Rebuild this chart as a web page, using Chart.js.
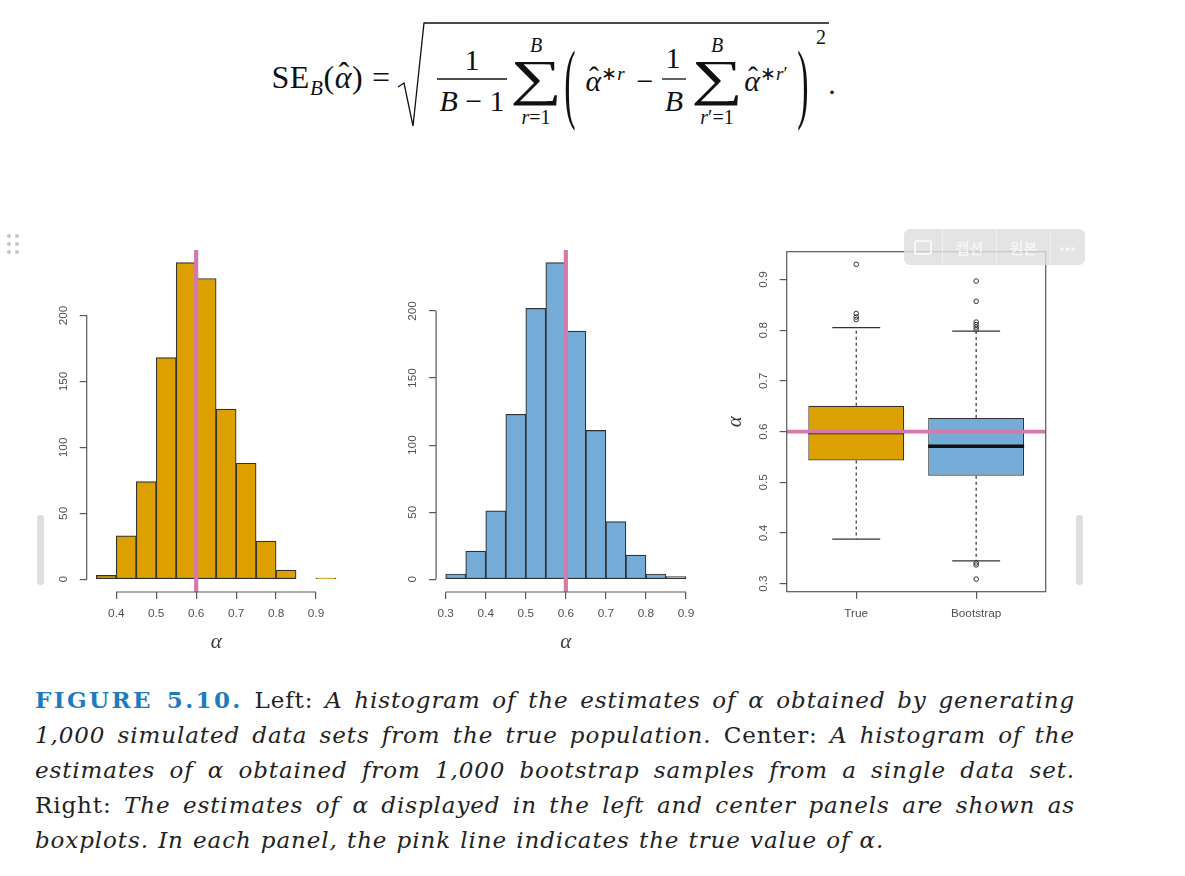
<!DOCTYPE html>
<html lang="ko">
<head>
<meta charset="utf-8">
<title>FIGURE 5.10</title>
<script src="https://cdn.jsdelivr.net/npm/chart.js@4.4.1/dist/chart.umd.min.js"></script>
<style>
  html,body{margin:0;padding:0;background:#fff;}
  body{width:1185px;height:876px;position:relative;overflow:hidden;color:#1e1e1e;}
  canvas{position:absolute;}
  #hTrue{left:40px;top:240px;}
  #hBoot{left:390px;top:240px;}
  #box{left:720px;top:240px;}

  /* formula */
  .f{position:absolute;transform:translate(-50%,-50%);font-family:"Liberation Serif",serif;font-size:30px;line-height:1;white-space:nowrap;color:#111;}
  .f.s{font-size:20px;}
  .f i{font-style:italic;}
  .hat{position:relative;display:inline-block;font-style:italic;}
  .hat::after{content:"ˆ";position:absolute;left:55%;top:-0.12em;transform:translateX(-50%);font-style:normal;}
  .big{font-size:50px;font-weight:300;transform:translate(-50%,-50%) scaleX(1.45);}
  .paren{font-size:34px;transform:translate(-50%,-50%) scaleY(2.6);}
  svg.rad{position:absolute;left:0;top:0;}

  /* caption */
  .cap{position:absolute;left:35px;top:682px;width:1040px;font-family:"DejaVu Serif",serif;font-size:23px;letter-spacing:.9px;line-height:35px;color:#222;}
  .cap div{text-align:justify;text-align-last:justify;white-space:nowrap;}
  .cap div.last{text-align-last:left;word-spacing:1px;}
  .cap .fig{color:#1f7bbf;font-weight:bold;letter-spacing:2.4px;}

  /* page chrome around the figure */
  .dots{position:absolute;left:6px;top:233px;width:14px;height:22px;}
  .dots b{position:absolute;width:4px;height:4px;border-radius:50%;background:#c6c6c6;}
  .bar{position:absolute;width:7px;height:70px;top:515px;border-radius:3px;background:#dedede;}
  .tools{position:absolute;left:904px;top:229px;width:181px;height:36px;border-radius:6px;background:rgba(222,222,222,.82);
         display:flex;font-family:"Noto Sans CJK KR",sans-serif;font-size:15px;font-weight:500;color:#f7f7f7;}
  .tools span{display:flex;align-items:center;justify-content:center;border-left:1px solid rgba(255,255,255,.45);}
  .tools span:first-child{border-left:none;width:38px;}
  .tools span.t{width:53px;}
  .tools span.m{flex:1;font-size:13px;letter-spacing:1px;}
  .bubble{width:14px;height:11px;border:2px solid #f7f7f7;border-radius:3px;position:relative;}
</style>
</head>
<body>

<!-- SE formula -->
<svg class="rad" width="1185" height="140">
  <polyline points="398,87 404,83 413,126 424,23 829,23" fill="none" stroke="#111" stroke-width="1.3"/>
  <line x1="437" y1="79" x2="507" y2="79" stroke="#111" stroke-width="1.3"/>
  <line x1="662" y1="79" x2="686" y2="79" stroke="#111" stroke-width="1.3"/>
</svg>
<div class="f" style="left:331px;top:80px;font-size:32px;letter-spacing:.6px">SE<sub style="font-size:21px;font-style:italic">B</sub>(<span class="hat">α</span>) =</div>
<div class="f" style="left:472px;top:60px">1</div>
<div class="f" style="left:472px;top:101px"><i>B</i> − 1</div>
<div class="f big" style="left:536px;top:78px">∑</div>
<div class="f s" style="left:536px;top:45px"><i>B</i></div>
<div class="f s" style="left:536px;top:117px"><i>r</i>=1</div>
<div class="f paren" style="left:570px;top:83px">(</div>
<div class="f" style="left:605px;top:80px"><span class="hat">α</span><sup style="font-size:19px">∗<i>r</i></sup></div>
<div class="f" style="left:645px;top:81px">−</div>
<div class="f" style="left:673px;top:58px">1</div>
<div class="f" style="left:674px;top:101px"><i>B</i></div>
<div class="f big" style="left:717px;top:78px">∑</div>
<div class="f s" style="left:717px;top:45px"><i>B</i></div>
<div class="f s" style="left:717px;top:117px"><i>r</i>′=1</div>
<div class="f" style="left:766px;top:80px"><span class="hat">α</span><sup style="font-size:19px">∗<i>r</i>′</sup></div>
<div class="f paren" style="left:803px;top:83px">)</div>
<div class="f s" style="left:821px;top:37px">2</div>
<div class="f" style="left:832px;top:84px">.</div>

<div class="dots"><b style="left:1px;top:1px"></b><b style="left:9px;top:1px"></b><b style="left:1px;top:9px"></b><b style="left:9px;top:9px"></b><b style="left:1px;top:17px"></b><b style="left:9px;top:17px"></b></div>
<div class="bar" style="left:37px"></div>
<div class="bar" style="left:1076px"></div>

<canvas id="hTrue" width="320" height="425"></canvas>
<canvas id="hBoot" width="320" height="425"></canvas>
<canvas id="box" width="340" height="425"></canvas>

<div class="tools"><span><i class="bubble"></i></span><span class="t">캡션</span><span class="t">원본</span><span class="m">•••</span></div>

<div class="cap">
  <div><span class="fig">FIGURE 5.10.</span> Left: <i>A histogram of the estimates of α obtained by generating</i></div>
  <div><i>1,000 simulated data sets from the true population.</i> Center: <i>A histogram of the</i></div>
  <div><i>estimates of α obtained from 1,000 bootstrap samples from a single data set.</i></div>
  <div>Right: <i>The estimates of α displayed in the left and center panels are shown as</i></div>
  <div class="last"><i>boxplots. In each panel, the pink line indicates the true value of α.</i></div>
</div>

<script>
// =============================================================
// Data
// =============================================================
// left: 1,000 estimates simulated from the true population
const TRUE_BIN_LO = [0.35, 0.40, 0.45, 0.50, 0.55, 0.60, 0.65, 0.70, 0.75, 0.80, 0.85, 0.90];
const TRUE_COUNTS = [3, 33, 74, 168, 240, 228, 129, 88, 29, 7, 0, 1];
// center: 1,000 bootstrap estimates from one data set
const BOOT_BIN_LO = [0.30, 0.35, 0.40, 0.45, 0.50, 0.55, 0.60, 0.65, 0.70, 0.75, 0.80, 0.85];
const BOOT_COUNTS = [4, 21, 51, 123, 202, 236, 185, 111, 43, 18, 4, 2];
const BIN_W = 0.05;
const TRUE_ALPHA = 0.6;

const TRUE_X_TICKS = [0.4, 0.5, 0.6, 0.7, 0.8, 0.9];
const BOOT_X_TICKS = [0.3, 0.4, 0.5, 0.6, 0.7, 0.8, 0.9];
const COUNT_TICKS  = [0, 50, 100, 150, 200];

// right: boxplots of the same two sets
const BOX_LABELS = ["True", "Bootstrap"];
const BOX_LOWER  = [0.388, 0.345];
const BOX_Q1     = [0.543, 0.513];
const BOX_MEDIAN = [0.598, 0.571];
const BOX_Q3     = [0.651, 0.627];
const BOX_UPPER  = [0.805, 0.798];
const OUT_TRUE   = [0.930, 0.833, 0.826, 0.821];
const OUT_BOOT   = [0.897, 0.857, 0.816, 0.811, 0.806, 0.801, 0.341, 0.337, 0.309];
const ALPHA_TICKS = [0.3, 0.4, 0.5, 0.6, 0.7, 0.8, 0.9];

// =============================================================
// Look
// =============================================================
const C = { orange:"#DCA000", blue:"#74ABD7", pink:"#D27BAA", ink:"#333", axis:"#595959", text:"#505050" };
const BOX_WEX = 0.8;   // R boxwex

Chart.defaults.font.family = "'Liberation Sans', Arial, sans-serif";
Chart.defaults.font.size = 11.8;
Chart.defaults.color = C.text;
Chart.defaults.animation = false;
Chart.defaults.plugins.legend.display = false;
Chart.defaults.plugins.tooltip.enabled = false;

// R pads every axis range by 4%
function rRange(lo, hi){ const d=(hi-lo)*0.04; return [lo-d, hi+d]; }
const fixTicks = list => s => { s.ticks = list.map(v=>({value:v})); };
const alphaTitle = { family:"'Liberation Serif', serif", style:"italic", size:21 };

// R-style extras: pink reference line, axis line only between end ticks, box frame
const rStyle = {
  id:"rStyle",
  afterDatasetsDraw(chart, args, o){
    if(!o.ref) return;
    const {ctx, chartArea:a} = chart;
    const s = chart.scales[o.ref.axis];
    const p = s.getPixelForValue(o.ref.value);
    ctx.save();
    ctx.strokeStyle = C.pink; ctx.lineWidth = o.ref.width;
    ctx.beginPath();
    if(s.isHorizontal()){ ctx.moveTo(p,a.top); ctx.lineTo(p,a.bottom); }
    else { ctx.moveTo(a.left,p); ctx.lineTo(a.right,p); }
    ctx.stroke();
    ctx.restore();
  },
  afterDraw(chart, args, o){
    const {ctx, chartArea:a} = chart;
    ctx.save();
    ctx.strokeStyle = C.axis; ctx.lineWidth = 1.2;
    if(o.frame) ctx.strokeRect(a.left, a.top, a.width, a.height);
    (o.axes||[]).forEach(id=>{
      const s = chart.scales[id], t = s.ticks;
      const p0 = s.getPixelForValue(t[0].value), p1 = s.getPixelForValue(t[t.length-1].value);
      ctx.beginPath();
      if(s.isHorizontal()){ ctx.moveTo(p0, s.top); ctx.lineTo(p1, s.top); }
      else { ctx.moveTo(s.right, p0); ctx.lineTo(s.right, p1); }
      ctx.stroke();
    });
    ctx.restore();
  }
};

function axisBase(){
  return {
    offset:false,
    grid:{ drawOnChartArea:false, offset:false, tickLength:7, color:C.axis, lineWidth:1.2 },
    border:{ display:false }
  };
}

// =============================================================
// Histograms
// =============================================================
function histChart(id, lo, counts, xticks, color, yWidth){
  const [xmin, xmax] = rRange(lo[0], lo[lo.length-1]+BIN_W);
  const [ymin, ymax] = rRange(0, Math.max(...counts));
  return new Chart(document.getElementById(id), {
    type:"bar",
    data:{ datasets:[{
      data: lo.map((v,i)=>({x:v+BIN_W/2, y:counts[i]})),
      backgroundColor:color, borderColor:C.ink, borderWidth:1.2, borderSkipped:false,
      categoryPercentage:1, barPercentage:1
    }]},
    options:{
      responsive:false,
      layout:{ padding:{ top:10, right:14.4, left:0, bottom:0 } },
      plugins:{ rStyle:{ ref:{axis:"x", value:TRUE_ALPHA, width:4.2}, axes:["x","y"] } },
      scales:{
        x:{ ...axisBase(), type:"linear", min:xmin, max:xmax,
            afterBuildTicks: fixTicks(xticks),
            afterFit: s=>{ s.height = 73; s.paddingLeft = 0; s.paddingRight = 0; },
            ticks:{ autoSkip:false, padding:8, minRotation:0, maxRotation:0, callback:v=>v.toFixed(1) },
            title:{ display:true, text:"α", font:alphaTitle, color:"#3a3a3a", padding:{top:0,bottom:10} } },
        y:{ ...axisBase(), min:ymin, max:ymax,
            afterBuildTicks: fixTicks(COUNT_TICKS),
            afterFit: s=>{ s.width = yWidth; s.paddingTop = 0; s.paddingBottom = 0; },
            ticks:{ autoSkip:false, minRotation:90, crossAlign:"center", padding:6.5 } }
      }
    },
    plugins:[rStyle]
  });
}

// =============================================================
// Boxplot (floating bars + whisker segments + outlier points)
// =============================================================
function boxChart(id){
  const all = [...BOX_LOWER, ...BOX_UPPER, ...OUT_TRUE, ...OUT_BOOT];
  const [ymin, ymax] = rRange(Math.min(...all), Math.max(...all));
  const [xmin, xmax] = rRange(0.5, BOX_LABELS.length+0.5);
  const seg = (x0,y0,x1,y1,extra) => Object.assign({
    type:"line", data:[{x:x0,y:y0},{x:x1,y:y1}], borderColor:C.ink, borderWidth:1.2,
    pointRadius:0, pointHoverRadius:0, order:1
  }, extra);

  const ds = [{
    type:"bar",
    data: BOX_LABELS.map((_,i)=>({x:i+1, y:[BOX_Q1[i], BOX_Q3[i]]})),
    backgroundColor:[C.orange, C.blue], borderColor:C.ink, borderWidth:1.2, borderSkipped:false,
    categoryPercentage:BOX_WEX, barPercentage:1, order:3
  }];
  BOX_LABELS.forEach((_,i)=>{
    const x = i+1, half = BOX_WEX/2, cap = BOX_WEX/4;
    ds.push(seg(x, BOX_Q3[i], x, BOX_UPPER[i], {borderDash:[3,3]}));
    ds.push(seg(x, BOX_Q1[i], x, BOX_LOWER[i], {borderDash:[3,3]}));
    ds.push(seg(x-cap, BOX_UPPER[i], x+cap, BOX_UPPER[i]));
    ds.push(seg(x-cap, BOX_LOWER[i], x+cap, BOX_LOWER[i]));
    ds.push(seg(x-half, BOX_MEDIAN[i], x+half, BOX_MEDIAN[i], {borderWidth:3.4, borderColor:"#111", order:0}));
  });
  [OUT_TRUE, OUT_BOOT].forEach((arr,i)=>ds.push({
    type:"scatter", data:arr.map(v=>({x:i+1, y:v})),
    pointRadius:2.3, pointHoverRadius:2.3, pointBorderWidth:1, borderColor:C.ink,
    backgroundColor:"rgba(0,0,0,0)", order:0
  }));

  return new Chart(document.getElementById(id), {
    type:"bar",
    data:{ datasets:ds },
    options:{
      responsive:false,
      layout:{ padding:{ top:11.7, right:14.3, left:0, bottom:0 } },
      plugins:{ rStyle:{ ref:{axis:"y", value:TRUE_ALPHA, width:3.8}, frame:true } },
      scales:{
        x:{ ...axisBase(), type:"linear", min:xmin, max:xmax,
            afterBuildTicks: fixTicks(BOX_LABELS.map((_,i)=>i+1)),
            afterFit: s=>{ s.height = 73.3; s.paddingLeft = 0; s.paddingRight = 0; },
            ticks:{ autoSkip:false, padding:8, minRotation:0, maxRotation:0, callback:v=>BOX_LABELS[Math.round(v)-1] } },
        y:{ ...axisBase(), min:ymin, max:ymax,
            afterBuildTicks: fixTicks(ALPHA_TICKS),
            afterFit: s=>{ s.width = 66.7; s.paddingTop = 0; s.paddingBottom = 0; },
            ticks:{ autoSkip:false, minRotation:90, crossAlign:"center", padding:7.5, callback:v=>v.toFixed(1) },
            title:{ display:true, text:"α", font:alphaTitle, color:"#3a3a3a", padding:{top:3,bottom:0} } }
      }
    },
    plugins:[rStyle]
  });
}

histChart("hTrue", TRUE_BIN_LO, TRUE_COUNTS, TRUE_X_TICKS, C.orange, 46.7);
histChart("hBoot", BOOT_BIN_LO, BOOT_COUNTS, BOOT_X_TICKS, C.blue, 46.1);
boxChart("box");
</script>
</body>
</html>
